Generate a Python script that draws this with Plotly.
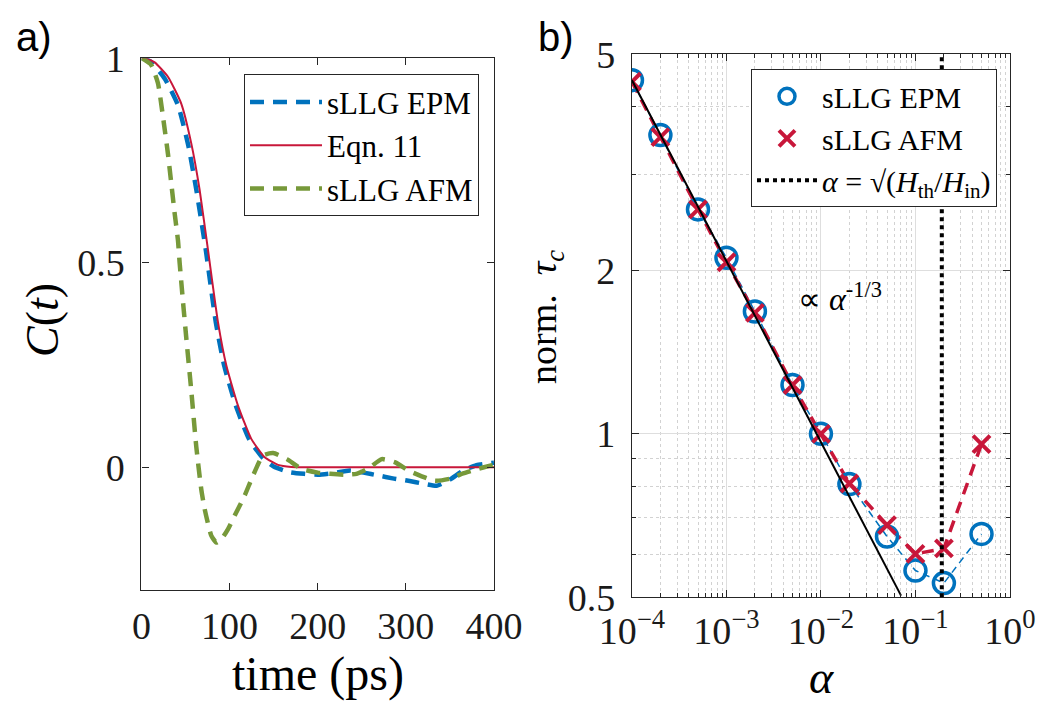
import plotly.graph_objects as go

# ---------------- Panel a data ----------------
t_eqn = [0, 7, 15, 30, 45, 56.5, 66, 75.5, 86.8, 96.3, 109.5, 124.6, 139.8, 155, 170, 200, 250, 300, 350, 400]
c_eqn = [1, 0.998, 0.99, 0.955, 0.89, 0.792, 0.678, 0.531, 0.355, 0.249, 0.151, 0.0695, 0.0245, 0.006, 0.001, 0, 0, 0, 0, 0]

t_epm = [0, 6, 12.5, 26.5, 41.5, 53, 62.5, 73, 84.3, 93.8, 107, 122, 137, 150, 168.5, 185, 200.7, 218, 236.7,
         252, 268.8, 285, 302.9, 320, 335, 350, 365, 380, 395.6, 400]
c_epm = [1, 0.997, 0.988, 0.95, 0.885, 0.788, 0.675, 0.531, 0.355, 0.249, 0.151, 0.0695, 0.0245, 0.002,
         -0.012, -0.016, -0.018, -0.014, -0.008, -0.013, -0.02, -0.027, -0.033, -0.04, -0.045, -0.03, -0.008,
         0.005, 0.01, 0.011]

t_afm = [0, 3.6, 11, 18.7, 24.4, 30, 33.8, 37.7, 41.4, 43.3, 47.1, 50.9, 56.6, 62.2, 67.9, 71.7, 79.2, 85,
         91, 98.2, 105.8, 117.1, 126.6, 137.9, 149.5, 165, 181.8, 200, 214, 230, 244, 258, 272.6, 288,
         302.9, 318, 333, 350, 365, 380, 395.6, 400]
c_afm = [1, 0.996, 0.984, 0.939, 0.857, 0.767, 0.694, 0.62, 0.555, 0.5, 0.405, 0.315, 0.185, 0.05, -0.055,
         -0.102, -0.167, -0.184, -0.175, -0.151, -0.118, -0.069, -0.02, 0.029, 0.035, 0.02, -0.004, -0.013,
         -0.016, -0.018, -0.016, -0.002, 0.02, 0.012, -0.008, -0.022, -0.033, -0.028, -0.015, -0.005, 0.004,
         0.006]

# ---------------- Panel b data ----------------
alpha = [1e-4, 2e-4, 5e-4, 1e-3, 2e-3, 5e-3, 1e-2, 2e-2, 5e-2, 0.1, 0.2, 0.5]
tau_epm = [4.48, 3.55, 2.59, 2.11, 1.68, 1.23, 1.0, 0.808, 0.647, 0.56, 0.531, 0.654]
tau_afm = [4.45, 3.52, 2.59, 2.07, 1.67, 1.23, 1.0, 0.81, 0.679, 0.601, 0.615, 0.957]

alpha_fit = [1e-4, 0.0704]
tau_fit = [4.48, 0.5035]

alpha_th = [0.19, 0.19]
tau_th = [0.5, 5]

x_ticks_a = [0, 100, 200, 300, 400]
y_ticks_a = [0, 0.5, 1]
x_ticks_b = [1e-4, 1e-3, 1e-2, 1e-1, 1]
x_ticktext_b = ["10<sup>−4</sup>", "10<sup>−3</sup>", "10<sup>−2</sup>", "10<sup>−1</sup>", "10<sup>0</sup>"]
y_ticks_b = [0.5, 1, 2, 5]
y_ticktext_b = ["0.5", "1", "2", "5"]

BLUE = "#0072BD"
RED = "#C8173A"
GREEN = "#77993A"
AX = "#262626"
SERIF = "Liberation Serif"

fig = go.Figure()

# Panel a
fig.add_trace(go.Scatter(x=t_epm, y=c_epm, mode="lines", name="sLLG EPM",
                         line=dict(color=BLUE, width=4.5, dash="14px,9px", shape="spline", smoothing=0.5),
                         xaxis="x", yaxis="y", legend="legend"))
fig.add_trace(go.Scatter(x=t_eqn, y=c_eqn, mode="lines", name="Eqn. 11",
                         line=dict(color=RED, width=2, shape="spline", smoothing=0.5),
                         xaxis="x", yaxis="y", legend="legend"))
fig.add_trace(go.Scatter(x=t_afm, y=c_afm, mode="lines", name="sLLG AFM",
                         line=dict(color=GREEN, width=4.5, dash="14px,9px", shape="spline", smoothing=0.5),
                         xaxis="x", yaxis="y", legend="legend"))

# Panel b
fig.add_trace(go.Scatter(x=alpha, y=tau_epm, mode="lines", showlegend=False,
                         line=dict(color=BLUE, width=1.5, dash="7px,5px"),
                         xaxis="x2", yaxis="y2"))
fig.add_trace(go.Scatter(x=alpha, y=tau_afm, mode="lines", showlegend=False,
                         line=dict(color=RED, width=3.5, dash="12px,8px"),
                         xaxis="x2", yaxis="y2"))
fig.add_trace(go.Scatter(x=alpha, y=tau_epm, mode="markers", name="sLLG EPM",
                         marker=dict(symbol="circle-open", size=21, color=BLUE, line=dict(width=3.5, color=BLUE)),
                         xaxis="x2", yaxis="y2", legend="legend2"))
fig.add_trace(go.Scatter(x=alpha, y=tau_afm, mode="markers", name="sLLG AFM",
                         marker=dict(symbol="x-thin-open", size=17, color=RED, line=dict(width=4, color=RED)),
                         xaxis="x2", yaxis="y2", legend="legend2"))
fig.add_trace(go.Scatter(x=alpha_th, y=tau_th, mode="lines",
                         name="<i>α</i> = √(<i>H</i><sub>th</sub>/<i>H</i><sub>in</sub>)",
                         line=dict(color="black", width=4, dash="dot"),
                         xaxis="x2", yaxis="y2", legend="legend2"))
fig.add_trace(go.Scatter(x=alpha_fit, y=tau_fit, mode="lines", showlegend=False,
                         line=dict(color="black", width=2),
                         xaxis="x2", yaxis="y2"))

common_axis = dict(showline=True, linecolor=AX, linewidth=1.3, mirror="ticks", ticks="inside",
                   tickcolor=AX, ticklen=7, tickwidth=1.2, zeroline=False, automargin=False,
                   tickfont=dict(family=SERIF, size=38, color="#1a1a1a"))

fig.update_layout(
    template="none",
    width=1063, height=705,
    margin=dict(l=0, r=0, t=0, b=0, pad=0),
    paper_bgcolor="white", plot_bgcolor="white",
    xaxis=dict(domain=[0.1331, 0.4647], range=[0, 400], tickvals=x_ticks_a, showgrid=False,
               anchor="y", ticklabelstandoff=2, **common_axis),
    yaxis=dict(domain=[0.1631, 0.9173], range=[-0.3, 1], tickvals=y_ticks_a, showgrid=False,
               anchor="x", ticklabelstandoff=8, **common_axis),
    xaxis2=dict(domain=[0.5945, 0.9501], type="log", range=[-4, 0], tickvals=x_ticks_b,
                ticktext=x_ticktext_b, anchor="y2", ticklabelstandoff=0,
                showgrid=True, gridcolor="#dedede", gridwidth=1,
                minor=dict(tickvals=[m * 10 ** e for e in range(-4, 0) for m in range(2, 10)],
                           ticks="inside", ticklen=4, tickcolor=AX, showgrid=True,
                           gridcolor="#d2d2d2", griddash="dot", gridwidth=1),
                **common_axis),
    yaxis2=dict(domain=[0.1528, 0.9230], type="log", range=[-0.30103, 0.69897], tickvals=y_ticks_b,
                ticktext=y_ticktext_b, anchor="x2", ticklabelstandoff=8,
                showgrid=True, gridcolor="#dedede", gridwidth=1,
                minor=dict(tickvals=[0.6, 0.7, 0.8, 0.9, 3, 4],
                           ticks="inside", ticklen=4, tickcolor=AX, showgrid=True,
                           gridcolor="#d2d2d2", griddash="dot", gridwidth=1),
                **common_axis),
    legend=dict(x=0.4506, y=0.8946, xanchor="right", yanchor="top", bgcolor="white",
                bordercolor=AX, borderwidth=1, font=dict(family=SERIF, size=31, color="black"),
                itemwidth=72, tracegroupgap=0),
    legend2=dict(x=0.9379, y=0.9017, xanchor="right", yanchor="top", bgcolor="white",
                 bordercolor=AX, borderwidth=1, font=dict(family=SERIF, size=30, color="black"),
                 itemwidth=60, tracegroupgap=0),
    annotations=[
        dict(text="a)", x=14 / 1063, y=1 - 37 / 705, xref="paper", yref="paper", xanchor="left",
             yanchor="middle", showarrow=False, font=dict(family="Liberation Sans", size=40, color="black")),
        dict(text="b)", x=536 / 1063, y=1 - 37 / 705, xref="paper", yref="paper", xanchor="left",
             yanchor="middle", showarrow=False, font=dict(family="Liberation Sans", size=40, color="black")),
        dict(text="time (ps)", x=318 / 1063, y=1 - 674 / 705, xref="paper", yref="paper",
             xanchor="center", yanchor="middle", showarrow=False,
             font=dict(family=SERIF, size=48, color="black")),
        dict(text="<i>C</i>(<i>t</i>)", x=42 / 1063, y=1 - 320 / 705, xref="paper", yref="paper",
             xanchor="center", yanchor="middle", showarrow=False, textangle=-90,
             font=dict(family=SERIF, size=46, color="black")),
        dict(text="<i>α</i>", x=821 / 1063, y=1 - 677 / 705, xref="paper", yref="paper",
             xanchor="center", yanchor="middle", showarrow=False,
             font=dict(family=SERIF, size=46, color="black")),
        dict(text="norm.  <i>τ</i><sub><i>c</i></sub>", x=546 / 1063, y=1 - 317 / 705, xref="paper",
             yref="paper", xanchor="center", yanchor="middle", showarrow=False, textangle=-90,
             font=dict(family=SERIF, size=38, color="black")),
        dict(text="∝ <i>α</i><sup>-1/3</sup>", x=840 / 1063, y=1 - 297 / 705, xref="paper", yref="paper",
             xanchor="center", yanchor="middle", showarrow=False,
             font=dict(family=SERIF, size=32, color="black")),
    ],
)

fig.write_html("out.html")
